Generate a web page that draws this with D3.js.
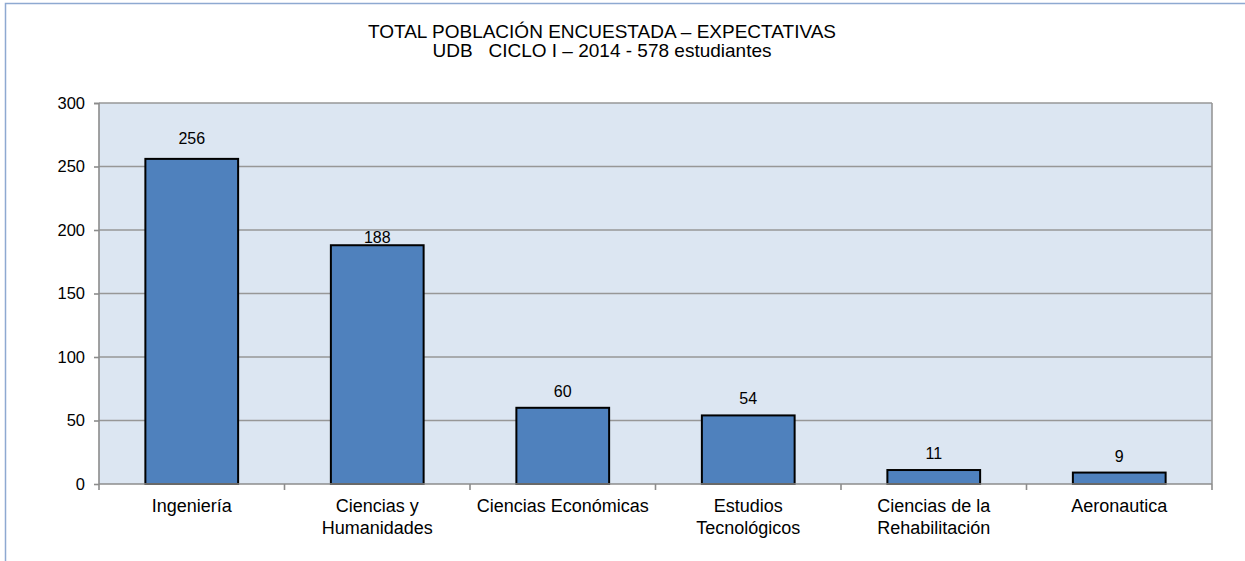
<!DOCTYPE html>
<html>
<head>
<meta charset="utf-8">
<script src="https://cdn.jsdelivr.net/npm/d3@7"></script>
<style>
  body { margin: 0; background: #fff; }
  text { font-family: "Liberation Sans", Arial, sans-serif; fill: #000; }
</style>
</head>
<body>
<div id="chart"></div>
<script>
const categories = [
  ['Ingeniería'],
  ['Ciencias y', 'Humanidades'],
  ['Ciencias Económicas'],
  ['Estudios', 'Tecnológicos'],
  ['Ciencias de la', 'Rehabilitación'],
  ['Aeronautica']
];
const values = [256, 188, 60, 54, 11, 9];
const yTicks = [0, 50, 100, 150, 200, 250, 300];
const titleLines = ['TOTAL POBLACIÓN ENCUESTADA – EXPECTATIVAS', 'UDB   CICLO I – 2014 - 578 estudiantes'];

const width = 1245, height = 561;
const margin = { top: 103, right: 33, bottom: 77, left: 99 };
const w = width - margin.left - margin.right;
const h = height - margin.top - margin.bottom;

const svg = d3.select('#chart')
  .append('svg')
  .attr('width', width)
  .attr('height', height);

// outer frame
svg.append('path')
  .attr('d', `M5.5,${height} V3.5 H${width}`)
  .attr('fill', 'none')
  .attr('stroke', '#8EA9D1')
  .attr('stroke-width', 1.5);

// title
const title = svg.append('text')
  .attr('text-anchor', 'middle')
  .style('font-size', '19px')
  .style('white-space', 'pre');
titleLines.forEach((t, i) => {
  title.append('tspan')
    .attr('x', 602)
    .attr('y', 38 + i * 19)
    .text(t);
});

const g = svg.append('g')
  .attr('transform', 'translate(' + margin.left + ',' + margin.top + ')');

const x = d3.scaleBand()
  .domain(d3.range(categories.length))
  .range([0, w])
  .paddingInner(0.5)
  .paddingOuter(0.25);

const y = d3.scaleLinear()
  .domain([0, 300])
  .range([h, 0]);

g.append('rect')
  .attr('width', w)
  .attr('height', h)
  .attr('fill', '#DCE6F2');

// gridlines
g.selectAll('.grid')
  .data(yTicks.filter(d => d > 0))
  .enter().append('line')
  .attr('class', 'grid')
  .attr('x1', 0)
  .attr('x2', w)
  .attr('y1', d => y(d))
  .attr('y2', d => y(d))
  .attr('stroke', '#979797')
  .attr('stroke-width', 1.6);

// right border of plot
g.append('line')
  .attr('x1', w).attr('x2', w)
  .attr('y1', 0).attr('y2', h)
  .attr('stroke', '#979797')
  .attr('stroke-width', 1.6);

// bars
g.selectAll('.bar')
  .data(values)
  .enter().append('rect')
  .attr('class', 'bar')
  .attr('x', (d, i) => x(i))
  .attr('width', x.bandwidth())
  .attr('y', d => y(d))
  .attr('height', d => h - y(d))
  .attr('fill', '#4F81BD')
  .attr('stroke', '#000')
  .attr('stroke-width', 2);

// value labels
g.selectAll('.val')
  .data(values)
  .enter().append('text')
  .attr('class', 'val')
  .attr('x', (d, i) => x(i) + x.bandwidth() / 2)
  .attr('y', d => y(d) - (d === 188 ? 2 : d === 256 ? 15 : 11))
  .attr('text-anchor', 'middle')
  .style('font-size', '16px')
  .text(d => d);

// y axis
const yAxis = g.append('g')
  .call(d3.axisLeft(y).tickValues(yTicks).tickSize(5).tickPadding(9));
yAxis.select('.domain').attr('stroke', '#8C8C8C').attr('stroke-width', 1.6)
  .attr('d', `M-5,0.5H0V${h}`);
yAxis.selectAll('.tick line').attr('stroke', '#8C8C8C').attr('stroke-width', 1.6);
yAxis.selectAll('.tick text').style('font-size', '16.5px').style('font-family', '"Liberation Sans", Arial, sans-serif').attr('fill', '#000');

// x axis with ticks at category boundaries
const bounds = d3.range(categories.length + 1).map(i => i * w / categories.length);
const xAxisG = g.append('g').attr('transform', 'translate(0,' + h + ')');
xAxisG.append('line')
  .attr('x1', 0).attr('x2', w)
  .attr('stroke', '#8C8C8C').attr('stroke-width', 1.6);
xAxisG.selectAll('.xt')
  .data(bounds)
  .enter().append('line')
  .attr('x1', d => d).attr('x2', d => d)
  .attr('y1', 0).attr('y2', 6)
  .attr('stroke', '#8C8C8C').attr('stroke-width', 1.6);

const labels = xAxisG.selectAll('.cat')
  .data(categories)
  .enter().append('text')
  .attr('class', 'cat')
  .attr('text-anchor', 'middle')
  .style('font-size', '18px');
labels.each(function (lines, i) {
  const t = d3.select(this);
  lines.forEach((l, j) => {
    t.append('tspan')
      .attr('x', x(i) + x.bandwidth() / 2)
      .attr('y', 28 + j * 22)
      .text(l);
  });
});
</script>
</body>
</html>
